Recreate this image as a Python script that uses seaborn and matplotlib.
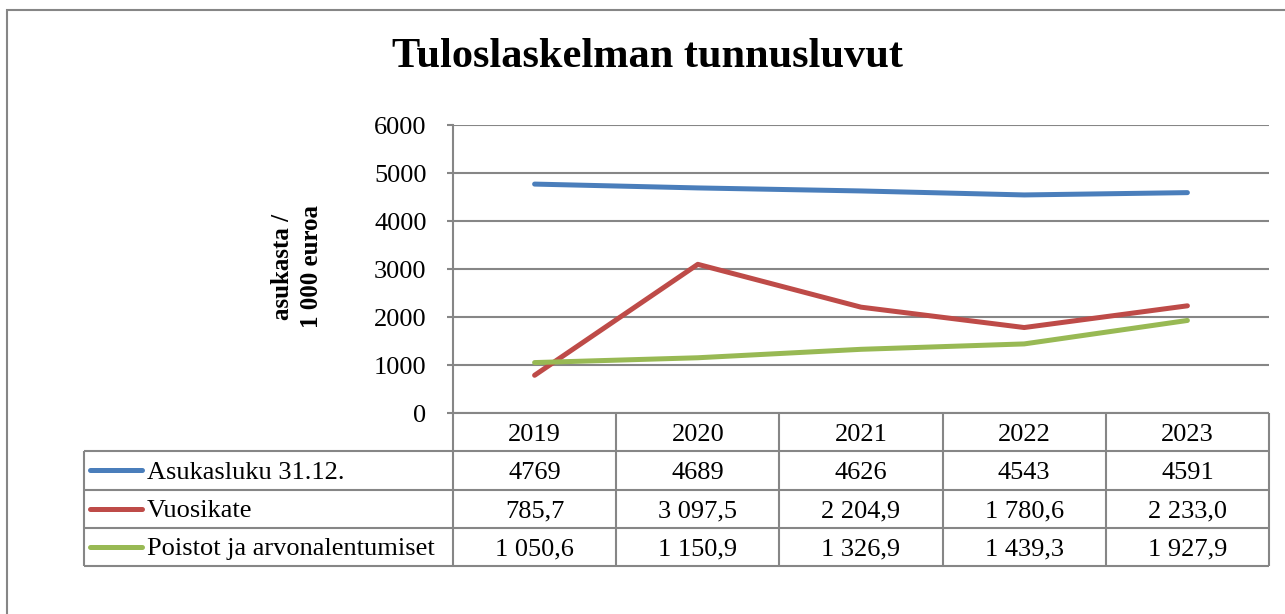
import numpy as np
import pandas as pd
import matplotlib
matplotlib.use("Agg")
import matplotlib.pyplot as plt
import matplotlib.patches as mpatches
import seaborn as sns

# Tiedot
vuodet = ["2019", "2020", "2021", "2022", "2023"]
sarjat = ["Asukasluku 31.12.", "Vuosikate", "Poistot ja arvonalentumiset"]
asukasluku = [4769, 4689, 4626, 4543, 4591]
vuosikate = [785.7, 3097.5, 2204.9, 1780.6, 2233.0]
poistot = [1050.6, 1150.9, 1326.9, 1439.3, 1927.9]
varit = ["#4A7EBB", "#BE4B48", "#98B954"]

def fmt_fi(v, dec=1):
    s = f"{v:,.{dec}f}"
    return s.replace(",", " ").replace(".", ",")

taulu = [
    [str(v) for v in asukasluku],
    [fmt_fi(v) for v in vuosikate],
    [fmt_fi(v) for v in poistot],
]

df = pd.DataFrame({
    "idx": list(range(len(vuodet))) * 3,
    "arvo": asukasluku + vuosikate + poistot,
    "sarja": [s for s in sarjat for _ in vuodet],
})

sns.set_style("white")
plt.rcParams["font.family"] = ["Liberation Serif", "DejaVu Serif"]
plt.rcParams["text.color"] = "black"
plt.rcParams["ytick.labelcolor"] = "black"

W, H = 1285, 614
fig = plt.figure(figsize=(W / 100, H / 100), dpi=100)
grey = "#868686"

# ulkoreunus
fig.patches.append(mpatches.Rectangle((7 / W, -0.1), 1.2, 1 - 10 / H + 0.1,
                                      transform=fig.transFigure, fill=False,
                                      edgecolor=grey, lw=1.5))

fig.text(647 / W, 1 - 57 / H, "Tuloslaskelman tunnusluvut", ha="center", va="center",
         fontsize=30.5, fontweight="bold")

x0, x1, ytop, ybot = 453, 1269, 125, 413
ax = fig.add_axes([x0 / W, 1 - ybot / H, (x1 - x0) / W, (ybot - ytop) / H])
sns.lineplot(data=df, x="idx", y="arvo", hue="sarja", hue_order=sarjat,
             palette=varit, linewidth=3.6, legend=False, ax=ax,
             solid_capstyle="round", solid_joinstyle="round")
ax.set_xlim(-0.5, len(vuodet) - 0.5)
ax.set_ylim(0, 6000)
ax.set_yticks(np.arange(0, 6001, 1000))
ax.set_xticks([])
ax.set_xlabel("")
ax.set_ylabel("")
ax.yaxis.grid(True, color=grey, lw=1.5)
ax.set_axisbelow(True)
for s in ["top", "right", "bottom"]:
    ax.spines[s].set_visible(False)
ax.spines["left"].set_color(grey)
ax.spines["left"].set_linewidth(1.5)
ax.tick_params(axis="y", direction="out", length=4, width=1.5, color=grey,
               labelsize=19, pad=15, left=True, labelcolor="black")

fig.text(297 / W, 1 - 267 / H, "asukasta /\n1 000 euroa", rotation=90,
         ha="center", va="center", fontsize=18, fontweight="bold", linespacing=1.3)

# taulukko
col_w = (x1 - x0) / len(vuodet)
tl = 84
left = -0.5 - (x0 - tl) / col_w
tax = fig.add_axes([tl / W, 1 - 566 / H, (x1 - tl) / W, (566 - ybot) / H])
tax.set_xlim(left, len(vuodet) - 0.5)
tax.set_ylim(4, 0)
tax.axis("off")
n = len(vuodet)
fs = 19
tax.hlines(0, -0.5, n - 0.5, color=grey, lw=1.5, clip_on=False)
for r in range(1, 5):
    tax.hlines(r, left, n - 0.5, color=grey, lw=1.5, clip_on=False)
tax.vlines(left, 1, 4, color=grey, lw=1.5, clip_on=False)
for k in range(n + 1):
    tax.vlines(-0.5 + k, 0, 4, color=grey, lw=1.5, clip_on=False)
for j, v in enumerate(vuodet):
    tax.text(j, 0.5, v, ha="center", va="center_baseline", fontsize=fs)
for i, (nimi, rivi) in enumerate(zip(sarjat, taulu)):
    y = i + 1.5
    tax.plot([left + 6 / col_w, left + 58 / col_w], [y, y], color=varit[i],
             lw=3.6, solid_capstyle="round", clip_on=False)
    tax.text(left + 63 / col_w, y, nimi, ha="left", va="center_baseline", fontsize=fs)
    for j, v in enumerate(rivi):
        tax.text(j, y, v, ha="center", va="center_baseline", fontsize=fs)

fig.savefig("out.png", dpi=100)
